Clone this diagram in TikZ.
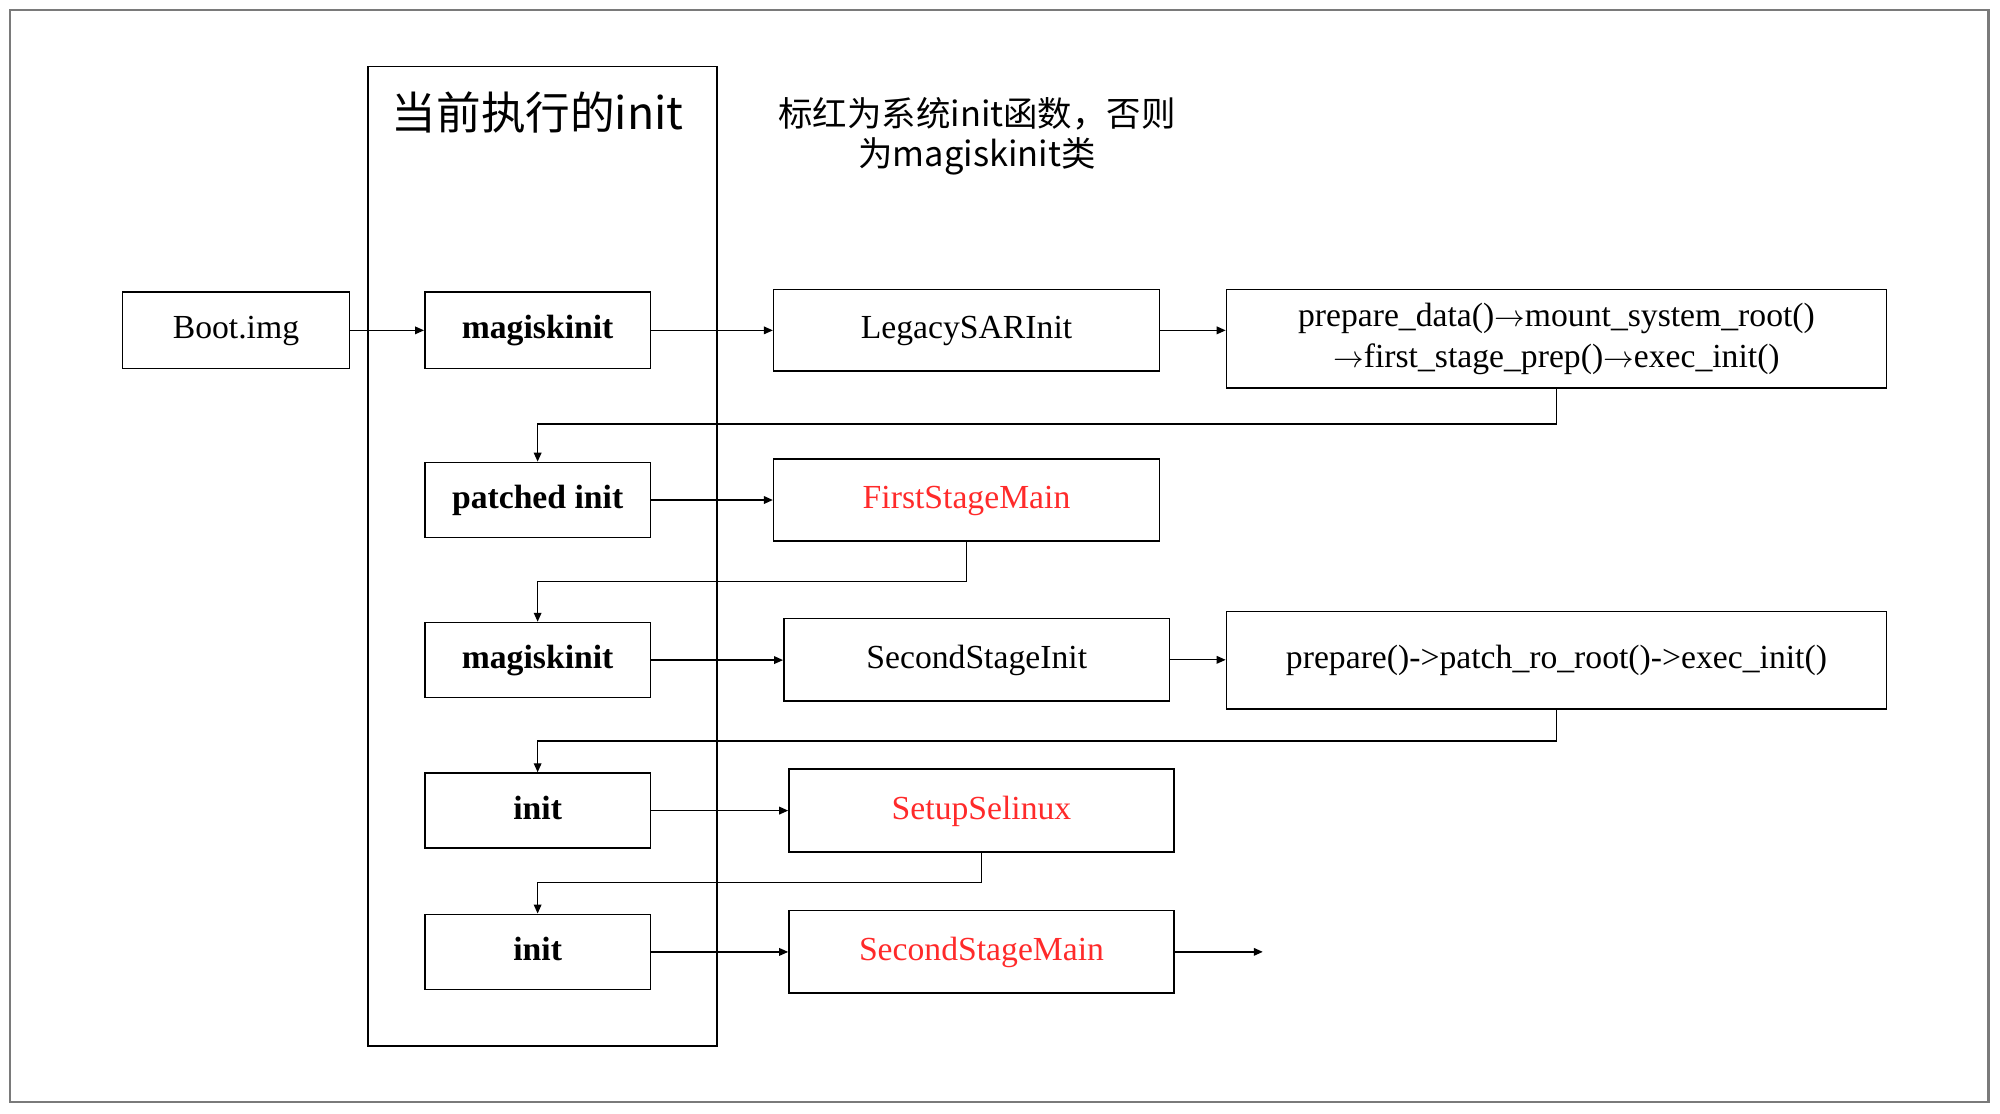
\documentclass[tikz,border=0pt]{standalone}
\usepackage{fontspec}
\setmainfont{Liberation Serif}
\newfontfamily\cjk{Noto Sans CJK SC}
\usetikzlibrary{arrows.meta}
\definecolor{fred}{HTML}{FF2A2A}
\definecolor{framegray}{HTML}{7A7A7A}
\newcommand{\rarr}{\ensuremath{\rightarrow}}
\begin{document}
\begin{tikzpicture}[x=0.5pt,y=-0.5pt,
  mbox/.style={draw=black, line width=0.6pt, inner sep=0pt, align=center,
    font=\fontsize{13.2}{16}\selectfont},
  box/.style={mbox, text height=0.72em, text depth=0.06em},
  bbox/.style={box, font=\fontsize{13.2}{16}\selectfont\bfseries},
  sz/.style 2 args={minimum width=#1*0.5pt, minimum height=#2*0.5pt},
  redtxt/.style={text=fred},
  arr/.style={line width=0.5pt, -{Triangle[length=3.5pt,width=3pt]}}]
\useasboundingbox (0,0) rectangle (1568,873);
% outer frame
\draw[framegray, line width=0.9pt] (8,8) rectangle (1559,864);
% column
\node (col) [draw=black, line width=0.6pt, sz={273.5}{768}] at (425.25,436) {};
\node (title) at (421.5,88) {\cjk\fontsize{17.5}{20}\selectfont 当前执行的init};
\node (note) [align=center, font=\cjk\fontsize{13.5}{15.5}\selectfont] at (766,107)
  {标红为系统init函数，否则\\为magiskinit类};
% boxes
\node (boot)    [box,  sz={178}{60}]   at (185,259)      {Boot.img};
\node (mag1)    [bbox, sz={177}{60}]   at (421.5,259)    {magiskinit};
\node (legacy)  [box,  sz={302.5}{64}] at (757.75,259)   {LegacySARInit};
\node (prep1)   [mbox, sz={517.5}{77}] at (1220.25,265.5)
  {\raisebox{-1pt}{\begin{tabular}{@{}c@{}}prepare\_data()\rarr mount\_system\_root()\\\rarr first\_stage\_prep()\rarr exec\_init()\end{tabular}}};
\node (patched) [bbox, sz={177}{59}]   at (421.5,392)    {patched init};
\node (first)   [box, redtxt, sz={302.5}{64}] at (757.75,392) {FirstStageMain};
\node (mag2)    [bbox, sz={177}{59}]   at (421.5,517.5)  {magiskinit};
\node (second)  [box,  sz={302.5}{64.6}] at (765.75,517.3) {SecondStageInit};
\node (prep2)   [box,  sz={517.5}{76.6}] at (1220.25,517.7) {prepare()->patch\_ro\_root()->exec\_init()};
\node (init1)   [bbox, sz={177}{59}]   at (421.5,635.5)  {init};
\node (setup)   [box, redtxt, sz={302}{65}] at (769.5,635.5) {SetupSelinux};
\node (init2)   [bbox, sz={177}{59}]   at (421.5,746.3)  {init};
\node (ssm)     [box, redtxt, sz={302}{64.5}] at (769.5,746.25) {SecondStageMain};
\coordinate (out) at (990,746.25);
% elbow levels
\coordinate (e1) at (0,332.5);
\coordinate (e2) at (0,456);
\coordinate (e3) at (0,581);
\coordinate (e4) at (0,692);
% horizontal arrows
\draw[arr] (boot) -- (mag1);
\draw[arr] (mag1) -- (legacy);
\draw[arr] (legacy.east) -- (legacy.east -| prep1.west);
\draw[arr] (patched) -- (first);
\draw[arr] (mag2.east) -- (mag2.east -| second.west);
\draw[arr] (second.east) -- (second.east -| prep2.west);
\draw[arr] (init1.east) -- (init1.east -| setup.west);
\draw[arr] (init2.east) -- (init2.east -| ssm.west);
\draw[arr] (ssm.east) -- (out);
% elbow arrows
\draw[arr] (prep1.south) -- (prep1.south |- e1) -| (patched.north);
\draw[arr] (first.south) -- (first.south |- e2) -| (mag2.north);
\draw[arr] (prep2.south) -- (prep2.south |- e3) -| (init1.north);
\draw[arr] (setup.south) -- (setup.south |- e4) -| (init2.north);
\end{tikzpicture}
\end{document}
